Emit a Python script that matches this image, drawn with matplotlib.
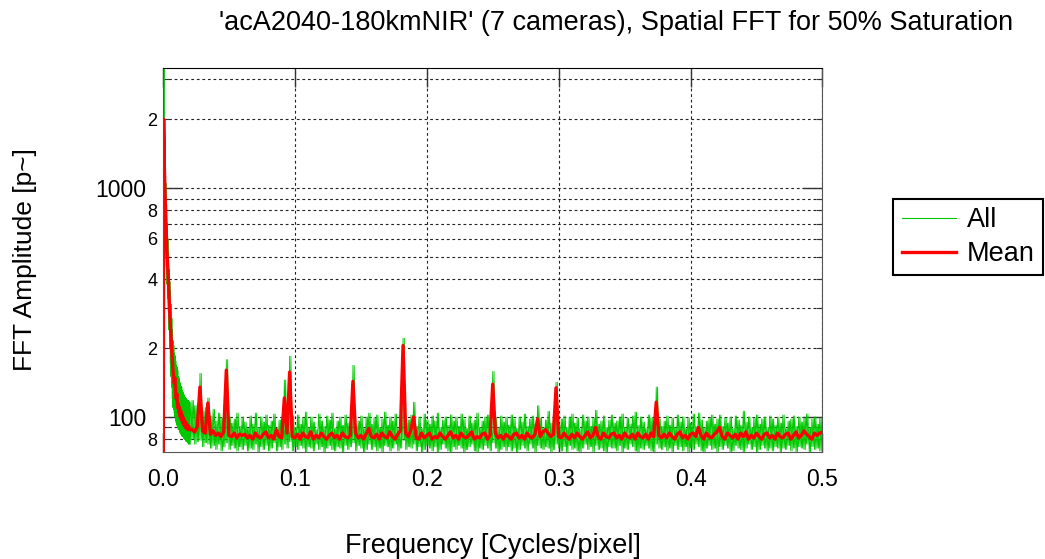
#!/usr/bin/python3

import matplotlib
matplotlib.use("Agg")
import matplotlib.pyplot as plt
from matplotlib.lines import Line2D
from matplotlib.ticker import LogLocator, FuncFormatter, MultipleLocator
import numpy as np


title = "'acA2040-180kmNIR' (7 cameras), Spatial FFT for 50% Saturation"

# low frequency part, 0 .. 0.02 step 0.0005
mean_low = [5, 2000, 1250, 950, 780, 620, 520, 460, 407, 340,
            290, 256, 225, 200, 180, 160, 152, 140, 148, 128,
            120, 126, 110, 114, 105, 110, 100, 106, 97, 102,
            94, 99, 92, 96, 90, 94, 89, 92, 88, 91, 88]
all_hi_low = [5, 4000, 1700, 1300, 1050, 850, 700, 600, 520, 440,
              390, 357, 310, 270, 240, 215, 205, 190, 185, 175,
              168, 165, 160, 150, 148, 142, 140, 136, 135, 130,
              128, 126, 124, 122, 121, 120, 119, 118, 118, 117, 116]
all_lo_low = [5, 1400, 900, 700, 560, 450, 380, 330, 290, 240,
              200, 171, 150, 135, 120, 110, 108, 104, 100, 96,
              94, 92, 90, 88, 88, 86, 85, 84, 83, 82,
              82, 81, 80, 80, 79, 78, 78, 77, 77, 76, 76]

# rest, 0.022 .. 0.5 step 0.002
mean_high = [
    88, 86, 91, 135, 87, 85, 115, 84, 87, 83, 85, 82, 86, 160, 83, 82, 85, 81, 84, 83,
    84, 81, 83, 80, 85, 82, 81, 84, 86, 81, 83, 80, 88, 82, 81, 121, 85, 157, 82, 81,
    84, 80, 85, 82, 81, 86, 80, 83, 81, 85, 82, 80, 83, 85, 81, 83, 80, 85, 82, 81,
    83, 143, 85, 81, 83, 80, 84, 89, 82, 81, 84, 80, 85, 82, 81, 86, 82, 80, 84, 87,
    205, 85, 82, 88, 100, 81, 80, 85, 81, 83, 85, 80, 82, 81, 85, 82, 80, 83, 86, 81,
    83, 80, 85, 82, 81, 83, 86, 80, 82, 81, 84, 85, 80, 83, 139, 85, 81, 83, 80, 84,
    82, 80, 84, 85, 81, 83, 80, 85, 82, 81, 84, 98, 82, 86, 88, 85, 82, 84, 134, 82,
    81, 85, 82, 80, 84, 81, 85, 82, 80, 83, 86, 81, 83, 90, 82, 80, 85, 82, 81, 84,
    85, 81, 83, 80, 85, 82, 81, 84, 80, 85, 82, 81, 84, 80, 85, 82, 116, 83, 81, 84,
    81, 85, 82, 80, 84, 86, 81, 83, 80, 84, 85, 82, 90, 83, 80, 85, 82, 81, 84, 86,
    90, 82, 80, 85, 83, 81, 84, 80, 85, 82, 86, 80, 83, 81, 85, 82, 80, 84, 85, 81,
    83, 80, 85, 82, 81, 84, 85, 80, 83, 86, 81, 83, 87, 84, 82, 80, 85, 83, 85, 86]

all_hi_high = [
    118, 112, 114, 155, 106, 110, 121, 101, 108, 96, 104, 99, 93, 178, 100, 94, 98, 104, 91, 100,
    95, 89, 101, 93, 104, 90, 100, 95, 102, 92, 96, 103, 88, 97, 100, 145, 92, 184, 101, 90,
    102, 93, 99, 105, 90, 100, 95, 88, 103, 96, 91, 101, 97, 104, 89, 96, 100, 92, 102, 94,
    97, 168, 91, 96, 101, 89, 100, 104, 93, 99, 102, 90, 98, 105, 92, 100, 96, 103, 89, 101,
    221, 94, 97, 102, 116, 91, 100, 89, 103, 97, 93, 101, 96, 104, 90, 97, 100, 92, 102, 96,
    100, 91, 103, 98, 89, 101, 94, 97, 104, 90, 96, 100, 102, 92, 158, 99, 90, 101, 95, 100,
    92, 102, 98, 89, 100, 95, 103, 91, 98, 101, 93, 112, 99, 90, 97, 106, 94, 101, 142, 92,
    98, 101, 90, 100, 103, 94, 99, 89, 102, 96, 100, 91, 99, 107, 93, 96, 101, 90, 97, 102,
    94, 96, 100, 103, 90, 99, 93, 101, 105, 92, 100, 95, 89, 102, 99, 93, 135, 98, 91, 96,
    101, 92, 99, 90, 102, 95, 100, 89, 99, 94, 103, 91, 104, 97, 90, 96, 99, 102, 93, 98,
    102, 91, 99, 94, 100, 89, 101, 97, 92, 106, 95, 100, 90, 99, 102, 93, 98, 100, 90, 101,
    98, 92, 100, 94, 102, 89, 96, 98, 101, 91, 100, 95, 99, 103, 90, 98, 100, 93, 99, 101]

all_lo_high = [
    80, 76, 78, 79, 74, 77, 76, 73, 75, 72, 76, 71, 74, 77, 72, 75, 73, 71, 74, 72,
    75, 71, 73, 72, 76, 70, 74, 72, 75, 71, 73, 77, 71, 74, 72, 76, 73, 78, 71, 74,
    72, 75, 73, 70, 74, 73, 71, 76, 72, 74, 70, 73, 75, 72, 71, 74, 73, 70, 75, 72,
    74, 77, 71, 75, 73, 70, 72, 76, 72, 74, 71, 73, 70, 75, 74, 71, 73, 76, 71, 73,
    79, 72, 74, 73, 76, 71, 74, 70, 72, 75, 73, 71, 74, 70, 72, 76, 73, 71, 70, 74,
    72, 75, 73, 70, 72, 74, 76, 71, 70, 73, 72, 75, 73, 71, 77, 73, 70, 72, 74, 71,
    74, 71, 73, 70, 72, 75, 73, 71, 76, 73, 70, 75, 73, 72, 74, 73, 70, 72, 76, 73,
    71, 74, 70, 75, 72, 73, 71, 70, 73, 76, 72, 74, 70, 75, 72, 73, 71, 70, 74, 73,
    73, 71, 75, 70, 73, 72, 76, 74, 71, 70, 73, 72, 75, 73, 71, 70, 76, 73, 72, 74,
    71, 73, 70, 75, 72, 74, 71, 74, 70, 73, 72, 76, 74, 71, 70, 73, 75, 72, 73, 70,
    74, 72, 75, 73, 70, 71, 75, 73, 72, 70, 73, 76, 72, 74, 70, 72, 75, 73, 71, 73,
    71, 74, 73, 70, 73, 72, 75, 71, 73, 70, 74, 73, 72, 76, 70, 74, 72, 73, 71, 74]


def minor_label(v, pos):
    d = int(round(v / 10 ** np.floor(np.log10(v) + 1e-9)))
    if d in (2, 4, 6, 8):
        return str(d)
    return ""


if __name__ == "__main__":

    plt.rcParams['font.family'] = ['Liberation Sans', 'DejaVu Sans']

    freq = np.concatenate([np.arange(len(mean_low)) * 0.0005,
                           0.022 + np.arange(len(mean_high)) * 0.002])
    mean = np.array(mean_low + mean_high, dtype=float)
    hi = np.array(all_hi_low + all_hi_high, dtype=float)
    lo = np.array(all_lo_low + all_lo_high, dtype=float)

    # green traces criss-cross between the camera extremes
    half = np.diff(freq, append=freq[-1] + 0.002) / 2
    gx = np.empty(2 * len(freq))
    gx[0::2] = freq
    gx[1::2] = freq + half
    ga = np.empty(2 * len(freq))
    ga[0::2] = hi
    ga[1::2] = lo
    gb = np.empty(2 * len(freq))
    gb[0::2] = lo
    gb[1::2] = hi

    fig = plt.figure(figsize=(10.45, 5.59), dpi=100)
    ax = fig.add_axes([0.156, 0.192, 0.631, 0.686])

    ax.plot(gx, ga, color='#00c800', lw=0.6)
    ax.plot(gx, gb, color='#00c800', lw=0.6)
    ax.plot(freq, mean, color='#ff0000', lw=2.4)

    ax.set_yscale('log')
    ax.set_xlim(0, 0.5)
    ax.set_ylim(70.5, 3340)

    ax.xaxis.set_major_locator(MultipleLocator(0.1))
    ax.xaxis.set_major_formatter(FuncFormatter(lambda v, p: f"{v:.1f}"))
    ax.yaxis.set_major_locator(LogLocator(base=10, numticks=10))
    ax.yaxis.set_major_formatter(FuncFormatter(lambda v, p: f"{v:.0f}"))
    ax.yaxis.set_minor_locator(LogLocator(base=10, subs=np.arange(2, 10), numticks=20))
    ax.yaxis.set_minor_formatter(FuncFormatter(minor_label))

    ax.grid(which='major', axis='x', color='#222222', ls=(0, (2.5, 2.5)), lw=0.8)
    ax.grid(which='both', axis='y', color='#222222', ls=(0, (2.5, 2.5)), lw=0.8)

    ax.tick_params(which='major', direction='in', length=14, width=1.0,
                   top=True, right=True, labelsize=16.5, color='#333333')
    ax.tick_params(which='minor', direction='in', length=4, width=0.8,
                   left=True, right=True, labelsize=13, color='#333333')
    ax.tick_params(axis='x', which='major', pad=12)
    ax.tick_params(axis='y', which='major', pad=12)
    ax.tick_params(axis='y', which='minor', pad=4)

    for s in ['left', 'bottom', 'right']:
        ax.spines[s].set_color('#555555')
    ax.spines['top'].set_color('black')

    ax.set_xlabel("Frequency [Cycles/pixel]", fontsize=19.5, labelpad=30)
    ax.set_ylabel("FFT Amplitude [p~]", fontsize=19)
    ax.yaxis.set_label_coords(-0.191, 0.5)

    fig.text(0.59, 0.958, title, fontsize=19.5, ha='center', va='center')

    handles = [Line2D([], [], color='#00c800', lw=0.8),
               Line2D([], [], color='#ff0000', lw=2.4)]
    leg = fig.legend(handles, ['All', 'Mean'], loc='upper left',
                     bbox_to_anchor=(0.855, 0.644), fontsize=19.5,
                     fancybox=False, framealpha=1, edgecolor='black',
                     handlelength=2.0, handletextpad=0.4, borderpad=0.3,
                     labelspacing=0.3, borderaxespad=0)
    leg.get_frame().set_linewidth(1.5)

    plt.savefig("out.png", dpi=100)
